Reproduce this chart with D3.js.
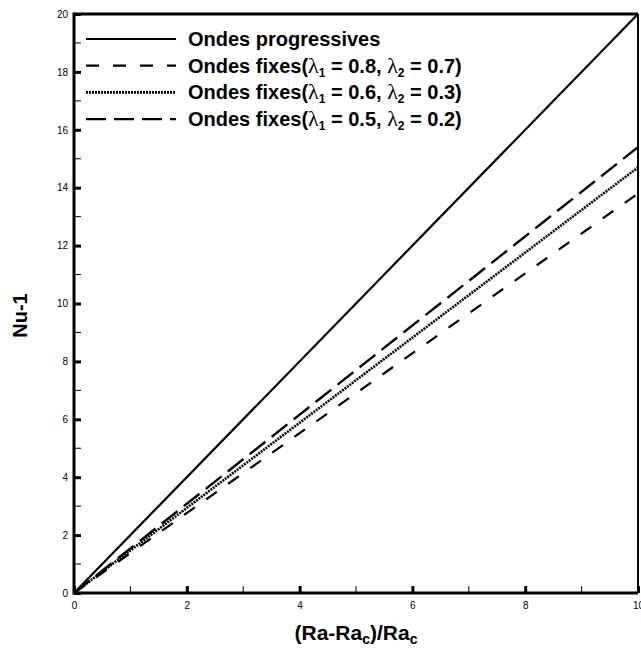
<!DOCTYPE html>
<html>
<head>
<meta charset="utf-8">
<script src="https://cdn.jsdelivr.net/npm/d3@7"></script>
<style>
  body { margin: 0; background: #fff; }
  svg { display: block; font-family: "Liberation Sans", Arial, sans-serif; }
  .tick text { font-size: 10px; fill: #000; }
</style>
</head>
<body>
<div id="chart"></div>
<script>
// data (x = (Ra-Rac)/Rac, y = Nu-1)
var xValues = [0, 10];
var progressives = [0, 20];
var fixes_08_07 = [0, 13.8];
var fixes_06_03 = [0, 14.7];
var fixes_05_02 = [0, 15.4];

var xTicks = [0, 2, 4, 6, 8, 10];
var yTicks = [0, 2, 4, 6, 8, 10, 12, 14, 16, 18, 20];

var series = [
    {name: "prog", values: progressives, dash: null, width: 2.2},
    {name: "f1", l1: "0.8", l2: "0.7", values: fixes_08_07, dash: "13,14", width: 2.2},
    {name: "f2", l1: "0.6", l2: "0.3", values: fixes_06_03, dash: "2,1", width: 2.6},
    {name: "f3", l1: "0.5", l2: "0.2", values: fixes_05_02, dash: "20,8", width: 2.4}
];

// set the dimensions and margins of the graph
var margin = {top: 14, right: 3, bottom: 56, left: 74},
    width = 641 - margin.left - margin.right,
    height = 649 - margin.top - margin.bottom;

var x = d3.scaleLinear().domain([0, 10]).range([0, width]);
var y = d3.scaleLinear().domain([0, 20]).range([height, 0]);

var svg = d3.select("#chart").append("svg")
    .attr("width", 641)
    .attr("height", 649)
    .append("g")
    .attr("transform", "translate(" + margin.left + "," + margin.top + ")");

// lines
var line = d3.line()
    .x(function(d) { return x(d[0]); })
    .y(function(d) { return y(d[1]); });

series.forEach(function(s) {
    var pts = xValues.map(function(v, i) { return [v, s.values[i]]; });
    svg.append("path")
        .datum(pts)
        .attr("fill", "none")
        .attr("stroke", "#000")
        .attr("stroke-width", s.width)
        .attr("stroke-dasharray", s.dash)
        .attr("d", line);
});

// minor ticks (inside)
var xMinor = d3.range(1, 10, 2), yMinor = d3.range(1, 20, 2);
svg.append("g").selectAll("line").data(xMinor).enter().append("line")
    .attr("x1", function(d) { return x(d); }).attr("x2", function(d) { return x(d); })
    .attr("y1", height).attr("y2", height - 7)
    .attr("stroke", "#000").attr("stroke-width", 1);
svg.append("g").selectAll("line").data(yMinor).enter().append("line")
    .attr("x1", 0).attr("x2", 7)
    .attr("y1", function(d) { return y(d); }).attr("y2", function(d) { return y(d); })
    .attr("stroke", "#000").attr("stroke-width", 1);

// Add the X Axis
var xAxis = svg.append("g")
    .attr("transform", "translate(0," + height + ")")
    .call(d3.axisBottom(x).tickValues(xTicks).tickSize(0).tickPadding(9));
xAxis.select(".domain").remove();
xAxis.selectAll(".tick").append("line")
    .attr("y1", 0).attr("y2", -7)
    .attr("stroke", "#000").attr("stroke-width", 3);

// Add the Y Axis
var yAxis = svg.append("g")
    .call(d3.axisLeft(y).tickValues(yTicks).tickSize(0).tickPadding(6));
yAxis.select(".domain").remove();
yAxis.selectAll(".tick").append("line")
    .attr("x1", 0).attr("x2", 7)
    .attr("stroke", "#000").attr("stroke-width", 3);

// frame
svg.append("line").attr("x1", 0).attr("x2", 0).attr("y1", -1.5).attr("y2", height + 1.5)
    .attr("stroke", "#000").attr("stroke-width", 3);
svg.append("line").attr("x1", 0).attr("x2", width).attr("y1", height).attr("y2", height)
    .attr("stroke", "#000").attr("stroke-width", 3);
svg.append("line").attr("x1", 0).attr("x2", width).attr("y1", 0).attr("y2", 0)
    .attr("stroke", "#000").attr("stroke-width", 3);
svg.append("line").attr("x1", width).attr("x2", width).attr("y1", 0).attr("y2", height)
    .attr("stroke", "#000").attr("stroke-width", 2);

// axis labels
var xl = svg.append("text")
    .attr("x", 282).attr("y", height + 47)
    .attr("text-anchor", "middle")
    .style("font-size", "21px").style("font-weight", "bold");
xl.append("tspan").text("(Ra-Ra");
xl.append("tspan").attr("baseline-shift", "-30%").style("font-size", "14px").text("c");
xl.append("tspan").text(")/Ra");
xl.append("tspan").attr("baseline-shift", "-30%").style("font-size", "14px").text("c");

svg.append("text")
    .attr("transform", "translate(-47," + (height / 2 + 12) + ") rotate(-90)")
    .attr("text-anchor", "middle")
    .style("font-size", "20px").style("font-weight", "bold")
    .text("Nu-1");

// legend
var legend = svg.append("g").attr("transform", "translate(12,25)");
series.forEach(function(s, i) {
    var g = legend.append("g").attr("transform", "translate(0," + (i * 26.7) + ")");
    g.append("line")
        .attr("x1", 0).attr("x2", 90)
        .attr("stroke", "#000")
        .attr("stroke-width", s.width)
        .attr("stroke-dasharray", s.dash);
    var t = g.append("text")
        .attr("x", 102).attr("y", 7)
        .style("font-size", "20px").style("font-weight", "bold");
    if (s.name == "prog") {
        t.text("Ondes progressives");
    } else {
        t.append("tspan").text("Ondes fixes(");
        t.append("tspan").style("font-family", "Liberation Serif").style("font-weight", "normal")
            .style("font-size", "22px").text("\u03bb");
        t.append("tspan").attr("baseline-shift", "-30%").style("font-size", "12px").text("1");
        t.append("tspan").text(" = " + s.l1 + ", ");
        t.append("tspan").style("font-family", "Liberation Serif").style("font-weight", "normal")
            .style("font-size", "22px").text("\u03bb");
        t.append("tspan").attr("baseline-shift", "-30%").style("font-size", "12px").text("2");
        t.append("tspan").text(" = " + s.l2 + ")");
    }
});
</script>
</body>
</html>
